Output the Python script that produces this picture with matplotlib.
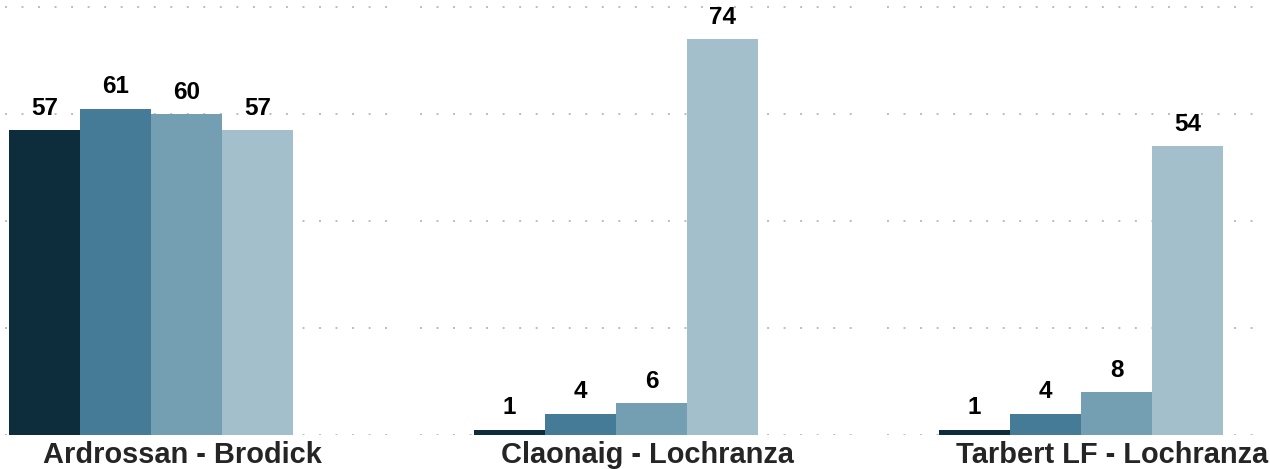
import matplotlib
matplotlib.use("Agg")
import matplotlib.pyplot as plt
import numpy as np

# Verilər
routes = ['Ardrossan - Brodick', 'Claonaig - Lochranza', 'Tarbert LF - Lochranza']
series_1 = [57, 1, 1]
series_2 = [61, 4, 4]
series_3 = [60, 6, 8]
series_4 = [57, 74, 54]

colors = ['#0d2c3c', '#457b96', '#749eb1', '#a3bfcb']

plt.rcParams['font.family'] = ['Liberation Sans', 'DejaVu Sans']

fig = plt.figure(figsize=(12.7, 4.69), dpi=100)
ax = fig.add_axes([5 / 1270, 34 / 469, 1258 / 1270, 435 / 469])

x = np.arange(len(routes))
w = 71 / 465
all_series = [series_1, series_2, series_3, series_4]

for i, (vals, col) in enumerate(zip(all_series, colors)):
    pos = x + (i - 1.5) * w
    bars = ax.bar(pos, vals, width=w, color=col, zorder=2)
    for b, v in zip(bars, vals):
        ax.annotate(str(v), (b.get_x() + b.get_width() / 2, v),
                    xytext=(0, 11), textcoords='offset points',
                    ha='center', va='baseline', fontsize=17.5,
                    fontweight='bold', color='black')

ax.set_xlim(-0.314, 2.391)
ax.set_ylim(0, 81.3)

# Kesik kesik ızgara çizgileri (panel araları boş)
segments = [(-0.314, 0.52), (0.578, 1.52), (1.583, 2.391)]
for yv in [0, 20, 40, 60, 80]:
    for a, b in segments:
        ax.hlines(yv, a, b, colors='#bcbcbc', linestyles=(0, (1, 7.5)),
                  linewidth=1.4, zorder=1)

for xi, name in zip(x, routes):
    ax.annotate(name, (xi, 0), xytext=(22.5, -20), textcoords='offset points',
                ha='center', va='baseline', fontsize=20.9, fontweight='bold',
                color='#252525', annotation_clip=False)

ax.set_xticks([])
ax.set_yticks([])
for s in ax.spines.values():
    s.set_visible(False)

fig.savefig('out.png', dpi=100)
